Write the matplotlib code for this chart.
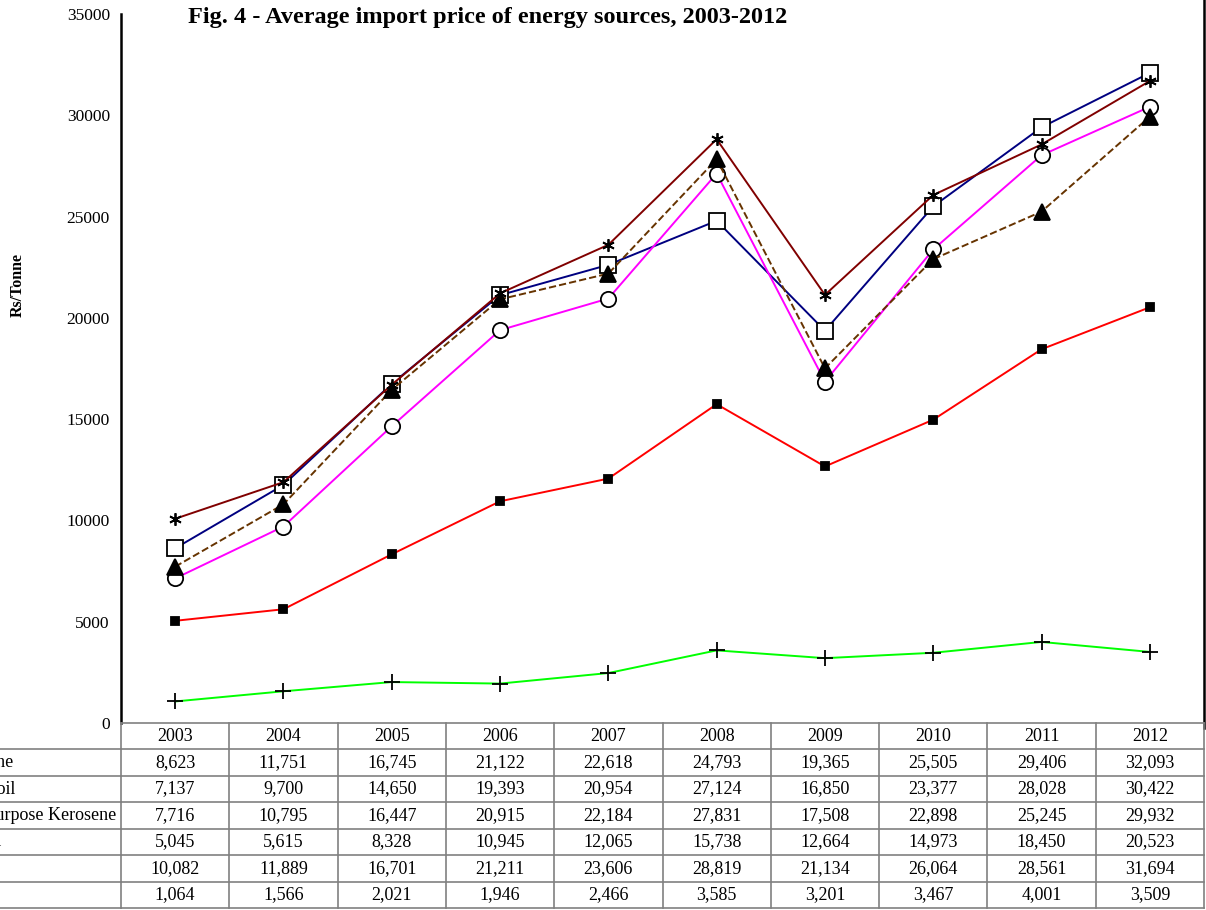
import matplotlib
matplotlib.use("Agg")
import matplotlib.pyplot as plt

plt.rcParams['font.family'] = ['Liberation Serif', 'DejaVu Serif']

years = ['2003', '2004', '2005', '2006', '2007', '2008', '2009', '2010', '2011', '2012']
names = ['Gasolene', 'Diesel oil', 'Dual Purpose Kerosene', 'Fuel oil', 'LPG', 'Coal']

gasolene = [8623, 11751, 16745, 21122, 22618, 24793, 19365, 25505, 29406, 32093]
diesel = [7137, 9700, 14650, 19393, 20954, 27124, 16850, 23377, 28028, 30422]
kerosene = [7716, 10795, 16447, 20915, 22184, 27831, 17508, 22898, 25245, 29932]
fuel_oil = [5045, 5615, 8328, 10945, 12065, 15738, 12664, 14973, 18450, 20523]
lpg = [10082, 11889, 16701, 21211, 23606, 28819, 21134, 26064, 28561, 31694]
coal = [1064, 1566, 2021, 1946, 2466, 3585, 3201, 3467, 4001, 3509]

series = [gasolene, diesel, kerosene, fuel_oil, lpg, coal]

# line colour, linestyle, marker, marker face, marker size
styles = [
    ('#000080', '-', 's', 'white', 11),
    ('#ff00ff', '-', 'o', 'white', 11),
    ('#663300', '--', '^', 'black', 11),
    ('#ff0000', '-', 's', 'black', 6),
    ('#800000', '-', (6, 2, 0), 'black', 9),
    ('#00ff00', '-', '+', 'black', 11),
]

W, H = 1206, 910
fig = plt.figure(figsize=(W / 100, H / 100), dpi=100)
ax = fig.add_axes([121 / W, (H - 723) / H, (1204 - 121) / W, (723 - 14) / H])

x = list(range(len(years)))
for vals, (c, ls, m, fc, ms) in zip(series, styles):
    ax.plot(x, vals, color=c, ls=ls, lw=1.4, marker=m, mfc=fc, mec='black',
            mew=1.3, ms=ms)

ax.set_xlim(-0.5, 9.5)
ax.set_ylim(0, 35000)
ax.set_yticks(range(0, 35001, 5000))
ax.set_xticks([])
ax.tick_params(axis='y', length=0, pad=8, labelsize=12.5)
for s in ['top', 'bottom', 'right']:
    ax.spines[s].set_visible(False)
ax.spines['left'].set_linewidth(1.8)
fig.add_artist(plt.Line2D([1204 / W, 1204 / W], [(H - 728) / H, 1], color='black', lw=1.8))

fig.text(18 / W, 1 - 285 / H, 'Rs/Tonne', rotation=90, fontsize=11.5, fontweight='bold',
         ha='center', va='center')
fig.text(188 / W, 1 - 18 / H, 'Fig. 4 - Average import price of energy sources, 2003-2012',
         fontsize=17.5, fontweight='bold', va='center', ha='left')

# data table below the plot
rows = [years] + [[f'{v:,}' for v in vals] for vals in series]
row_h = (908 - 723) / 7
col_w = (1204 - 121) / 10
grey = '#808080'
for i in range(8):
    y = H - (723 + i * row_h)
    fig.add_artist(plt.Line2D([121 / W, 1204 / W], [y / H, y / H], color=grey, lw=1.2))
    if i > 0:
        fig.add_artist(plt.Line2D([0, 121 / W], [y / H, y / H], color=grey, lw=1.2))
for j in range(11):
    xx = (121 + j * col_w) / W
    fig.add_artist(plt.Line2D([xx, xx], [(H - 908) / H, (H - 723) / H], color=grey, lw=1.2))

for i, row in enumerate(rows):
    yc = 1 - (723 + (i + 0.5) * row_h) / H
    for j, txt in enumerate(row):
        fig.text((121 + (j + 0.5) * col_w) / W, yc, txt, ha='center', va='center', fontsize=13)
    if i > 0:
        fig.text(-54 / W, yc, names[i - 1], ha='left', va='center', fontsize=13)

fig.savefig('out.png', dpi=100)
